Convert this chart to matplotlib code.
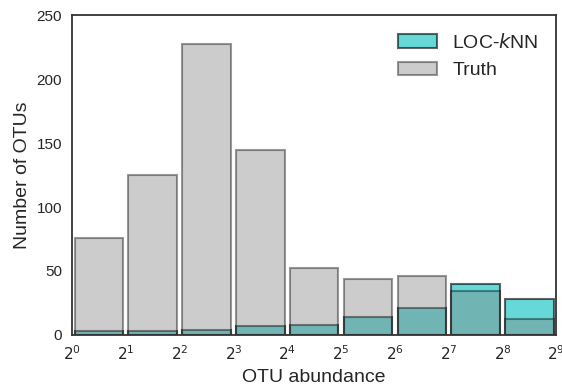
import numpy as np
import matplotlib
matplotlib.use('Agg')
import matplotlib.pyplot as plt
import seaborn as sns

sns.set_style('white')
plt.rcParams['font.family'] = ['Liberation Sans', 'DejaVu Sans']

# counts per power-of-two abundance bin (2^0..2^9)
bin_exponents = np.arange(0, 10)
loc_knn = [3, 3, 4, 7, 8, 14, 21, 40, 28]
truth = [76, 125, 228, 145, 52, 44, 46, 34, 12]

edges = 2.0 ** bin_exponents
lefts = 2.0 ** (bin_exponents[:-1] + 0.05)
rights = 2.0 ** (bin_exponents[1:] - 0.05)
widths = rights - lefts

fig, ax = plt.subplots(figsize=(5.62, 3.87), dpi=100)

ax.bar(lefts, loc_knn, width=widths, align='edge', color='c', alpha=0.6,
       edgecolor='black', linewidth=1.5, label='LOC-$k$NN')
ax.bar(lefts, truth, width=widths, align='edge', color='gray', alpha=0.4,
       edgecolor='black', linewidth=1.5, label='Truth')

ax.set_xscale('log', base=2)
ax.set_xlim(edges[0], edges[-1])
ax.set_ylim(0, 250)
ax.set_xticks(edges)
ax.set_xticklabels(['$2^{%d}$' % e for e in bin_exponents])
ax.minorticks_off()
ax.tick_params(labelsize=11)

ax.set_xlabel('OTU abundance', fontsize=14)
ax.set_ylabel('Number of OTUs', fontsize=14)
ax.legend(loc='upper right', fontsize=14, frameon=False)

for spine in ax.spines.values():
    spine.set_color('#333333')
    spine.set_linewidth(1.3)

plt.subplots_adjust(left=0.128, right=0.99, top=0.96, bottom=0.135)
plt.savefig('out.png')
